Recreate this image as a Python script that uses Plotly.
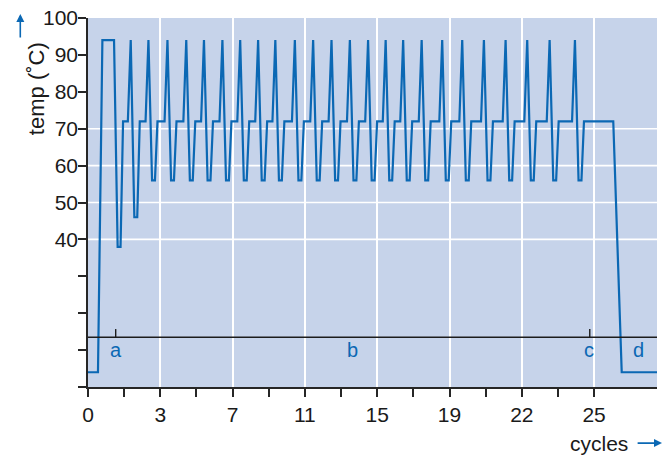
import plotly.graph_objects as go

# ---- data ----
tick_pos = [0, 10, 20, 30, 40, 50, 60, 70]
tick_labels = ["0", "3", "7", "11", "15", "19", "22", "25"]
minor_pos = [5, 15, 25, 35, 45, 55, 65]

y_ticks = [0, 10, 20, 30, 40, 50, 60, 70, 80, 90, 100]
y_labels = ["", "", "", "", "40", "50", "60", "70", "80", "90", "100"]

# time (a.u.) of each cycle's denaturation peak (cycle 1 = end of initial plateau)
peak_time = [3.60, 5.91, 8.36, 10.99, 13.59, 16.04, 18.59, 21.05, 23.53, 25.91,
             28.61, 31.14, 33.68, 36.22, 38.74, 41.17, 43.59, 46.15, 48.99, 51.76,
             54.76, 57.76, 60.75, 63.85, 67.35]
valley_temp = [38, 46] + [56] * 23
denat_temp = 94
ext_temp = 72
hold_temp = 4

start_rise = 1.38
plateau_start = 1.99
ext_end = 72.65
hold_start = 73.82
t_end = 78.70

ramp_down = 0.5
anneal_hold = 0.4
ramp_ext = 0.35
ramp_up = 0.4

# build profile
times = [0, start_rise, plateau_start]
temps = [hold_temp, hold_temp, denat_temp]
for i, (tp, vt) in enumerate(zip(peak_time, valley_temp)):
    if i > 0:
        times += [tp - ramp_up]
        temps += [ext_temp]
    times += [tp]
    temps += [denat_temp]
    times += [tp + ramp_down, tp + ramp_down + anneal_hold, tp + ramp_down + anneal_hold + ramp_ext]
    temps += [vt, vt, ext_temp]
times += [ext_end, hold_start, t_end]
temps += [ext_temp, hold_temp, hold_temp]

phase_labels = ["a", "b", "c", "d"]
phase_x = [3.83, 36.6, 69.3, 76.2]
phase_y = 10
divider_y = 13.5
divider_ticks = [3.83, 69.4]

BLUE = "#0b68b4"
BG = "#c6d3ea"
AX = "#262626"
TXT = "#1a1a1a"
FONT = "Liberation Sans, Arial, Helvetica, sans-serif"

fig = go.Figure()
fig.add_trace(go.Scatter(x=times, y=temps, mode="lines",
                         line=dict(color=BLUE, width=2.2), hoverinfo="skip",
                         showlegend=False))

shapes = []
for g in [40, 50, 60, 70]:
    shapes.append(dict(type="line", xref="paper", yref="y", x0=0, x1=1, y0=g, y1=g,
                       line=dict(color="white", width=1.6), layer="below"))
shapes.append(dict(type="line", xref="paper", yref="y", x0=0, x1=1,
                   y0=divider_y, y1=divider_y, line=dict(color="#1c1c1c", width=1.5)))
for dx in divider_ticks:
    shapes.append(dict(type="line", xref="x", yref="y", x0=dx, x1=dx,
                       y0=divider_y, y1=divider_y + 2.2, line=dict(color="#1c1c1c", width=1.4)))

annotations = []
for lab, lx in zip(phase_labels, phase_x):
    annotations.append(dict(x=lx, y=phase_y, xref="x", yref="y", text=lab,
                            showarrow=False, font=dict(color=BLUE, size=20, family=FONT)))

fig.update_layout(
    width=663, height=457,
    margin=dict(l=88, r=6, t=18, b=70),
    paper_bgcolor="white", plot_bgcolor=BG,
    font=dict(family=FONT, size=21, color=TXT),
    shapes=shapes,
    annotations=annotations,
    showlegend=False,
)

fig.update_xaxes(range=[0, t_end], tickmode="array", tickvals=tick_pos, ticktext=tick_labels,
                 showgrid=True, gridcolor="white", gridwidth=1.6,
                 showline=True, linecolor=AX, linewidth=1.5,
                 ticks="outside", ticklen=8, tickwidth=1.5, tickcolor=AX,
                 minor=dict(tickmode="array", tickvals=minor_pos, ticks="outside",
                            ticklen=8, tickwidth=1.5, tickcolor=AX, showgrid=False),
                 zeroline=False, tickfont=dict(size=21, color=TXT))
fig.update_yaxes(range=[0, 100], tickmode="array", tickvals=y_ticks, ticktext=y_labels,
                 showgrid=False, showline=True, linecolor=AX, linewidth=1.5,
                 ticks="outside", ticklen=8, tickwidth=1.5, tickcolor=AX,
                 zeroline=False, tickfont=dict(size=21, color=TXT),
                 ticklabelstandoff=-4)

# axis titles with arrows (paper coordinates)
fig.add_annotation(xref="paper", yref="paper", x=-0.116, y=0.94, yanchor="top",
                   text="temp (˚C)", textangle=-90, showarrow=False,
                   font=dict(size=22, color=TXT, family=FONT))
fig.add_annotation(xref="paper", yref="paper", x=-0.119, y=1.011, ax=0, ay=25,
                   text="", showarrow=True,
                   arrowhead=2, arrowsize=1, arrowwidth=1.6, arrowcolor=BLUE)
fig.add_annotation(xref="paper", yref="paper", x=0.9525, y=-0.152, xanchor="right",
                   yanchor="middle", text="cycles", showarrow=False,
                   font=dict(size=21, color=TXT, family=FONT))
fig.add_annotation(xref="paper", yref="paper", x=1.009, y=-0.152, ax=-26, ay=0,
                   text="", showarrow=True, arrowhead=2, arrowsize=1,
                   arrowwidth=1.6, arrowcolor=BLUE)

fig.write_html("out.html", config={"displayModeBar": False},
               post_script="document.body.style.margin='0px';")
